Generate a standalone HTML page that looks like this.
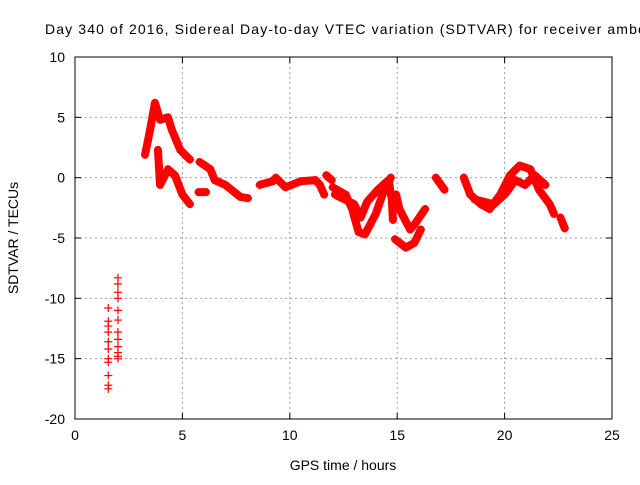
<!DOCTYPE html>
<html><head><meta charset="utf-8"><style>
body{margin:0;background:#fff;width:640px;height:480px;overflow:hidden}
svg{font-family:"Liberation Sans",sans-serif;font-size:14px}
</style></head><body>
<svg id="c" width="640" height="480">
<text x="45" y="34" textLength="600" lengthAdjust="spacing">Day 340 of 2016, Sidereal Day-to-day VTEC variation (SDTVAR) for receiver ambc</text>
<g id="grid"></g><g id="axes"></g><g id="series"></g>
<text x="343" y="470" text-anchor="middle">GPS time / hours</text>
<text x="18" y="238" text-anchor="middle" transform="rotate(-90 18 238)">SDTVAR / TECUs</text>
</svg>
<script>
const xTicks=[0,5,10,15,20,25];
const yTicks=[10,5,0,-5,-10,-15,-20];
const segHours=[
[1.55,1.55,1.55,1.55,1.55,1.55,1.55,1.55,1.55,1.55,1.55],
[2.0,2.0,2.0,2.0,2.0,2.0,2.0,2.0,2.0,2.0,2.0,2.0],
[3.26,3.5,3.72,3.96,4.33,4.5,4.9,5.35],
[5.8,6.3,6.5,7.0,7.7,8.05],
[3.86,3.96,4.33,4.65,5.0,5.35],
[5.75,6.1],
[8.6,9.2,9.35,9.8,10.5,11.2,11.4,11.6],
[11.7,11.95],
[12.0,12.6,12.9,13.2,13.5,14.0,14.4,14.7],
[12.1,13.0,13.3,13.6,14.1,14.6,14.75,14.8],
[14.95,15.1,15.6,15.8,16.3],
[14.9,15.4,15.8,16.1],
[16.8,17.2],
[18.1,18.4,18.9,19.3,19.8,20.25,20.7,21.2,21.6,22.1,22.3],
[18.6,19.5,20.0,20.5,20.95,21.4,21.9],
[22.6,22.8]
];
const segValues=[
[-10.8,-11.9,-12.3,-12.8,-13.6,-14.2,-15.0,-15.3,-16.4,-17.2,-17.5],
[-8.3,-8.8,-9.5,-10.0,-11.0,-11.8,-12.8,-13.4,-14.0,-14.5,-14.8,-15.0],
[1.9,4.0,6.2,4.8,5.0,4.0,2.3,1.5],
[1.3,0.7,-0.2,-0.6,-1.6,-1.7],
[2.3,-0.6,0.7,0.2,-1.4,-2.2],
[-1.2,-1.2],
[-0.6,-0.3,0.0,-0.8,-0.3,-0.2,-0.6,-1.4],
[0.2,-0.2],
[-0.8,-1.4,-2.6,-4.5,-4.7,-3.0,-1.0,0.0],
[-1.4,-2.2,-3.3,-2.0,-1.0,-0.2,-1.8,-3.5],
[-1.4,-2.6,-4.3,-3.9,-2.6],
[-5.1,-5.8,-5.4,-4.3],
[0.0,-1.0],
[0.0,-1.4,-2.2,-2.6,-1.4,0.2,1.0,0.7,-1.0,-2.2,-3.0],
[-1.8,-2.2,-1.4,-0.2,-0.6,0.2,-0.6],
[-3.3,-4.2]
];
const X0=75,X1=612,Y0=419,Y1=57;
const sx=v=>X0+(v-0)/25*(X1-X0);
const sy=v=>Y0-(v+20)/30*(Y0-Y1);
const NS="http://www.w3.org/2000/svg";
const mk=(t,a,p)=>{const e=document.createElementNS(NS,t);for(const k in a)e.setAttribute(k,a[k]);p.appendChild(e);return e;};
const grid=document.getElementById('grid'),axes=document.getElementById('axes'),ser=document.getElementById('series');
xTicks.forEach(t=>{
 if(t>0&&t<25){const l=mk('line',{x1:sx(t),x2:sx(t),y1:Y0,y2:Y1,stroke:'#a0a0a0','stroke-dasharray':'2,3'},grid);
 
 }
 const tx=mk('text',{x:sx(t),y:Y0+21,'text-anchor':'middle'},axes);tx.textContent=t;
 
 
 mk('line',{x1:sx(t),x2:sx(t),y1:Y0,y2:Y0-6,stroke:'#000'},axes);
 mk('line',{x1:sx(t),x2:sx(t),y1:Y1,y2:Y1+6,stroke:'#000'},axes);
});
yTicks.forEach(t=>{
 if(t>-20&&t<10){const l=mk('line',{x1:X0,x2:X1,y1:sy(t),y2:sy(t),stroke:'#a0a0a0','stroke-dasharray':'2,3'},grid);
 
 }
 const tx=mk('text',{x:X0-10,y:sy(t)+5,'text-anchor':'end'},axes);tx.textContent=t;
 
 
 mk('line',{x1:X0,x2:X0+6,y1:sy(t),y2:sy(t),stroke:'#000'},axes);
 mk('line',{x1:X1,x2:X1-6,y1:sy(t),y2:sy(t),stroke:'#000'},axes);
});
const fr=mk('rect',{x:X0,y:Y1,width:X1-X0,height:Y0-Y1,fill:'none',stroke:'#000'},axes);


segHours.forEach((hs,i)=>{
 const vs=segValues[i];
 if(i>1){const pl=mk('polyline',{points:hs.map((h,j)=>sx(h)+','+sy(vs[j])).join(' '),fill:'none',stroke:'#f00','stroke-width':8,'stroke-linejoin':'round','stroke-linecap':'round'},ser);
 
 }
 hs.forEach((h,j)=>{
  const x=sx(h),y=sy(vs[j]);
  const p=mk('path',{d:`M${x-4},${y}H${x+4}M${x},${y-4}V${y+4}`,stroke:'#f00','stroke-width':1.2},ser);
  
  
 });
});
</script>
</body></html>
